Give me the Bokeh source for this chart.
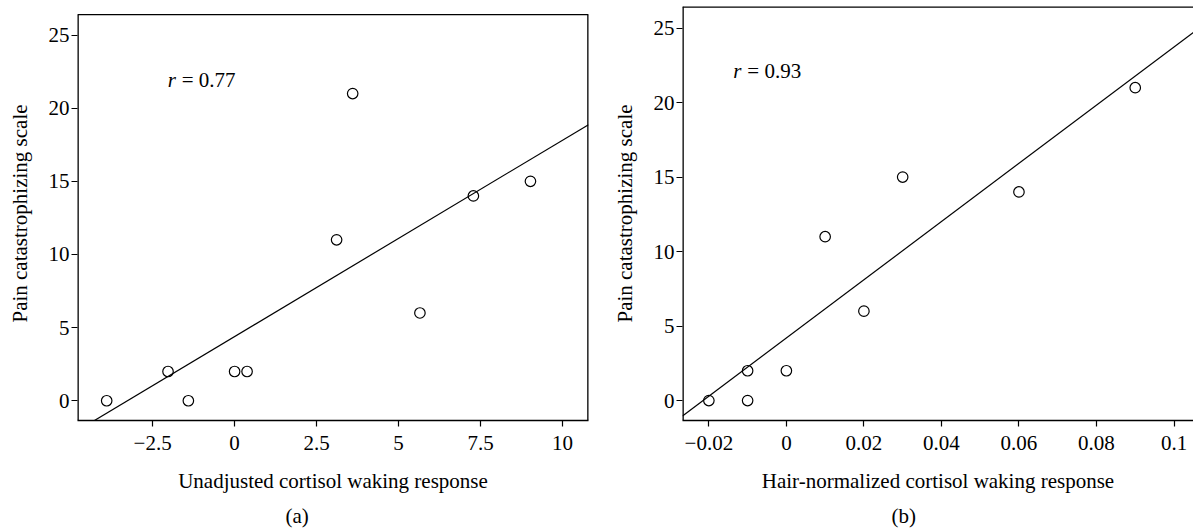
import numpy as np
from bokeh.plotting import figure
from bokeh.layouts import row
from bokeh.models import Range1d, FixedTicker, Label, Title
from bokeh.embed import file_html
from bokeh.resources import INLINE

# ---- data ----
# Panel (a): unadjusted cortisol waking response vs pain catastrophizing
cwr_unadj = [-3.9, -2.03, -1.41, 0.0, 0.38, 3.11, 3.6, 5.65, 7.28, 9.02]
pcs_a = [0, 2, 0, 2, 2, 11, 21, 6, 14, 15]
# Panel (b): hair-normalized cortisol waking response vs pain catastrophizing
cwr_hair = [-0.02, -0.01, -0.01, 0.0, 0.01, 0.02, 0.03, 0.06, 0.09]
pcs_b = [0, 2, 0, 2, 11, 6, 15, 14, 21]

x_ticks_a = [-2.5, 0, 2.5, 5, 7.5, 10]
x_labels_a = ["\u22122.5", "0", "2.5", "5", "7.5", "10"]
x_ticks_b = [-0.02, 0, 0.02, 0.04, 0.06, 0.08, 0.1]
x_labels_b = ["\u22120.02", "0", "0.02", "0.04", "0.06", "0.08", "0.1"]
y_ticks = [0, 5, 10, 15, 20, 25]
y_labels = ["0", "5", "10", "15", "20", "25"]
r_a = "= 0.77"
r_b = "= 0.93"

FONT = "Liberation Serif"
FS = "21px"


def panel(xs, ys, xr, yr, xt, xl, xlabel, cap, rtxt, rpos, fw, fh, bl, bt, br, bb,
          cap_off, box_top, right_edge):
    p = figure(width=None, height=None, frame_width=fw, frame_height=fh,
               x_range=Range1d(*xr), y_range=Range1d(*yr),
               output_backend="svg", toolbar_location=None, tools="",
               min_border_left=bl, min_border_top=bt, min_border_right=br,
               min_border_bottom=bb, background_fill_color="white",
               border_fill_color="white")
    p.grid.visible = False
    p.outline_line_color = None

    # regression line fitted to the points
    k, b = np.polyfit(xs, ys, 1)
    p.line([xr[0], xr[1]], [k * xr[0] + b, k * xr[1] + b], line_color="black", line_width=1.2)
    p.scatter(xs, ys, marker="circle", size=10.5, fill_color=None, line_color="black", line_width=1.2)

    for ax in (p.xaxis[0], p.yaxis[0]):
        ax.minor_tick_line_color = None
        ax.major_tick_in = 0
        ax.major_tick_out = 6
        ax.major_tick_line_color = "black"
        ax.major_tick_line_width = 1.2
        ax.axis_line_color = "black"
        ax.axis_line_width = 1.3
        ax.major_label_text_font = FONT
        ax.major_label_text_font_size = FS
        ax.major_label_text_color = "black"
        ax.axis_label_text_font = FONT
        ax.axis_label_text_font_size = FS
        ax.axis_label_text_font_style = "normal"
        ax.axis_label_text_color = "black"

    # panel box: left / right edges and top edge (bottom edge = x axis line)
    p.yaxis.axis_line_color = None
    ex = [xr[0], xr[1]] if right_edge else [xr[0]]
    p.segment(x0=ex, y0=[yr[0]] * len(ex), x1=ex, y1=[box_top] * len(ex),
              line_color="black", line_width=2.6)
    top_w = 2.6 if box_top >= yr[1] else 1.3
    p.segment(x0=[xr[0]], y0=[box_top], x1=[xr[1]], y1=[box_top],
              line_color="black", line_width=top_w)

    p.xaxis.ticker = FixedTicker(ticks=xt)
    p.xaxis.major_label_overrides = {t: s for t, s in zip(xt, xl)}
    p.yaxis.ticker = FixedTicker(ticks=y_ticks)
    p.yaxis.major_label_overrides = {t: s for t, s in zip(y_ticks, y_labels)}
    p.yaxis.major_label_orientation = "horizontal"
    p.xaxis.major_label_standoff = 9
    p.yaxis.major_label_standoff = 2
    p.xaxis.axis_label = xlabel
    p.yaxis.axis_label = "Pain catastrophizing scale"
    p.xaxis.axis_label_standoff = 16
    p.yaxis.axis_label_standoff = 14

    p.add_layout(Label(x=rpos[0], y=rpos[1], text="r", text_font=FONT, text_font_size=FS,
                       text_font_style="italic", text_baseline="middle", text_color="black"))
    p.add_layout(Label(x=rpos[0], y=rpos[1], x_offset=14, text=rtxt, text_font=FONT,
                       text_font_size=FS, text_baseline="middle", text_color="black"))

    p.add_layout(Title(text=cap, align="left", offset=cap_off, text_font=FONT,
                       text_font_size=FS, text_font_style="normal", text_color="black",
                       standoff=12), "below")
    return p


pa = panel(cwr_unadj, pcs_a, (-4.79, 10.79), (-1.35, 26.95), x_ticks_a, x_labels_a,
           "Unadjusted cortisol waking response", "(a)", r_a, (-2.04, 21.9),
           511, 414, 77, 6, 20, 108, 208, box_top=26.4, right_edge=True)
pb = panel(cwr_hair, pcs_b, (-0.0268, 0.10503), (-1.34, 26.45), x_ticks_b, x_labels_b,
           "Hair-normalized cortisol waking response", "(b)", r_b, (-0.01368, 22.15),
           511, 414, 74, 6, 0, 108, 209, box_top=26.45, right_edge=False)

layout = row(pa, pb)
open("out.html", "w").write(file_html(layout, INLINE))
